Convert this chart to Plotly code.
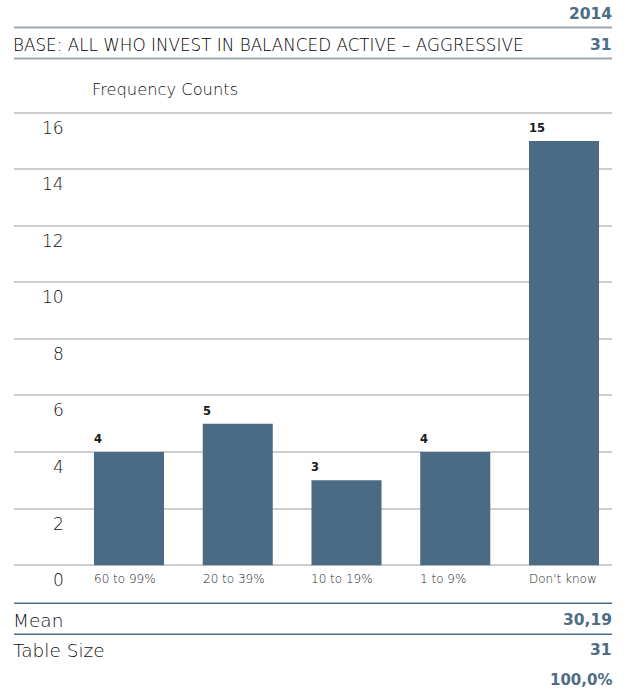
import plotly.graph_objects as go

# Survey answers and their frequency counts
categories = ["60 to 99%", "20 to 39%", "10 to 19%", "1 to 9%", "Don't know"]
counts = [4, 5, 3, 4, 15]
y_ticks = [0, 2, 4, 6, 8, 10, 12, 14, 16]

year_label = "2014"
base_label = "BASE: ALL WHO INVEST IN BALANCED ACTIVE \u2013 AGGRESSIVE"
base_count = 31
mean_value = "30,19"
table_size = 31
total_pct = "100,0%"

W, H = 632, 691
L, R = 14, 612            # plot area horizontal extent (px)
Y0_PX, PX_PER_UNIT = 565, 28.25
Y_MIN, Y_MAX = -0.1, 16.2
bottom_px = Y0_PX - Y_MIN * PX_PER_UNIT
plot_h = (Y_MAX - Y_MIN) * PX_PER_UNIT
top_px = bottom_px - plot_h

BAR = "#4b6b84"
SLATE = "#4d6d86"
LIGHT_RULE = "#97a9b7"
FONT = "DejaVu Sans"
BAR_WIDTH = 0.644

def px_x(px):
    return (px - L) / (R - L)

def px_y(py):
    return (bottom_px - py) / plot_h

fig = go.Figure(go.Bar(
    x=list(range(len(categories))),
    y=counts,
    width=BAR_WIDTH,
    marker=dict(color=BAR, line=dict(width=0)),
    hoverinfo="skip",
))

ann = []
for i, (cat, v) in enumerate(zip(categories, counts)):
    # value label above the bar, aligned with its left edge
    ann.append(dict(x=i - BAR_WIDTH / 2, y=v, xref="x", yref="y", text=f"<b>{v}</b>",
                    showarrow=False, xanchor="left", yanchor="bottom", yshift=4, xshift=-2,
                    font=dict(size=11.5, color="#1a1a1a", family=FONT)))
    # category label under the bar, also left aligned
    ann.append(dict(x=i - BAR_WIDTH / 2, y=0, xref="x", yref="y", text=cat,
                    showarrow=False, xanchor="left", yanchor="middle", yshift=-14, xshift=-2,
                    font=dict(size=12, color="#222222", family=FONT, weight=300)))
# y tick labels sitting just below each gridline
for t in y_ticks:
    ann.append(dict(x=px_x(66), y=t, xref="paper", yref="y", text=str(t),
                    showarrow=False, xanchor="right", yanchor="middle", yshift=-15,
                    font=dict(size=17, color="#111111", family=FONT, weight=300)))

def text_at(px, py, text, anchor, size, color, weight=400):
    shift = -3 if anchor == "left" else 2
    ann.append(dict(x=px_x(px), y=px_y(py), xref="paper", yref="paper", text=text,
                    showarrow=False, xanchor=anchor, yanchor="middle", xshift=shift,
                    font=dict(size=size, color=color, family=FONT, weight=weight)))

text_at(612, 14, f"<b>{year_label}</b>", "right", 15.5, SLATE)
text_at(14, 45, base_label, "left", 16.8, "#000000", 300)
text_at(612, 45, f"<b>{base_count}</b>", "right", 15.5, SLATE)
text_at(93, 90, "Frequency Counts", "left", 16.3, "#111111", 300)
text_at(14, 620, "Mean", "left", 18.5, "#111111", 300)
text_at(612, 620, f"<b>{mean_value}</b>", "right", 15.5, SLATE)
text_at(14, 650, "Table Size", "left", 18.5, "#111111", 300)
text_at(612, 650, f"<b>{table_size}</b>", "right", 15.5, SLATE)
text_at(612, 680, f"<b>{total_pct}</b>", "right", 15, SLATE)

shapes = []
def rule(py, color, width):
    shapes.append(dict(type="line", xref="paper", yref="paper", x0=0, x1=1,
                       y0=px_y(py), y1=px_y(py), line=dict(color=color, width=width)))

rule(28, LIGHT_RULE, 2)
rule(59, LIGHT_RULE, 2)
rule(603, SLATE, 1.5)
rule(634, SLATE, 1.5)

# x range chosen so category centres fall on their columns
spacing = 108.75
x0 = -(129 - L) / spacing
x1 = x0 + (R - L) / spacing

fig.update_layout(
    width=W, height=H,
    margin=dict(l=L, r=W - R, t=top_px, b=H - bottom_px, pad=0),
    paper_bgcolor="white", plot_bgcolor="white",
    showlegend=False,
    bargap=0.35,
    xaxis=dict(range=[x0, x1], showticklabels=False, showgrid=False, zeroline=False,
               showline=False, ticks="", fixedrange=True),
    yaxis=dict(range=[Y_MIN, Y_MAX], tickvals=y_ticks, showticklabels=False,
               showgrid=True, gridcolor="#cdcdcd", gridwidth=1.5, zeroline=False,
               showline=False, ticks="", fixedrange=True),
    annotations=ann,
    shapes=shapes,
)

fig.write_html("out.html")
